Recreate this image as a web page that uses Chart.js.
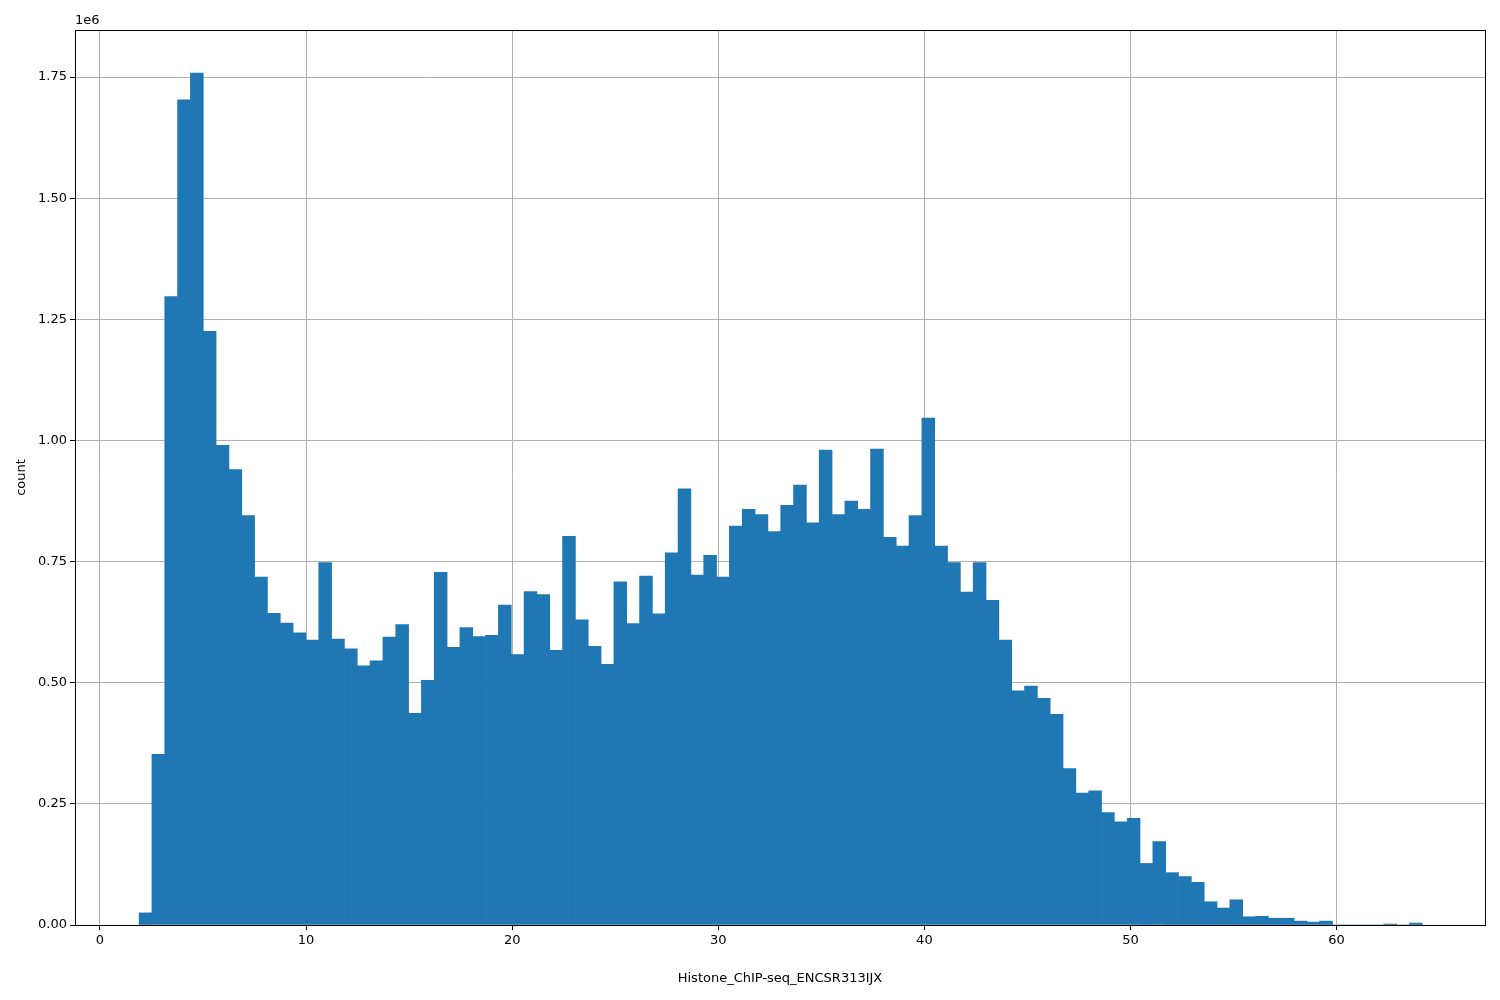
<!DOCTYPE html>
<html><head><meta charset="utf-8">
<script src="https://cdn.jsdelivr.net/npm/chart.js@4/dist/chart.umd.min.js"></script>
<style>body{margin:0;background:#fff}</style>
</head><body><canvas id="c" width="1500" height="1000" style="width:1500px;height:1000px"></canvas>
<script>
const binStart = 1.9;
const binWidth = 0.6226;
const counts = [0.025,0.352,1.297,1.703,1.758,1.225,0.99,0.94,0.845,0.718,
0.643,0.623,0.603,0.588,0.748,0.59,0.57,0.535,0.545,0.594,
0.62,0.437,0.505,0.728,0.573,0.614,0.595,0.598,0.66,0.558,
0.688,0.682,0.567,0.802,0.63,0.575,0.538,0.708,0.622,0.72,
0.642,0.768,0.9,0.722,0.763,0.718,0.823,0.858,0.847,0.812,
0.866,0.908,0.83,0.98,0.847,0.875,0.858,0.982,0.8,0.782,
0.845,1.046,0.782,0.748,0.687,0.748,0.67,0.588,0.483,0.493,
0.468,0.435,0.323,0.272,0.277,0.232,0.213,0.22,0.127,0.172,
0.108,0.1,0.088,0.048,0.035,0.052,0.017,0.018,0.014,0.014,
0.008,0.006,0.008,0,0,0,0,0.002,0,0.004];
const xTicks = [0,10,20,30,40,50,60];
const yTicks = [0,0.25,0.5,0.75,1.0,1.25,1.5,1.75];
const xLabel = "Histone_ChIP-seq_ENCSR313IJX";
const yLabel = "count";

const data = counts.map((v,i)=>({x: binStart + binWidth*(i+0.5), y: v*1e6}));
const font = {family:"DejaVu Sans", size:13};
const frame = {id:'frame', afterDraw(ch){
  const a=ch.chartArea, c=ch.ctx; c.save();
  c.strokeStyle='#000'; c.lineWidth=1;
  c.strokeRect(a.left+0.5,a.top+0.5,a.right-a.left,a.bottom-a.top);
  c.fillStyle='#000'; c.font='13px "DejaVu Sans"'; c.textBaseline='bottom';
  c.fillText('1e6', a.left, a.top-3); c.restore();
}};
new Chart(document.getElementById('c'),{
  type:'bar',
  data:{datasets:[{data, backgroundColor:'#1f77b4', borderWidth:0, barPercentage:1, categoryPercentage:1, grouped:false}]},
  options:{
    responsive:false, animation:false, devicePixelRatio:1,
    layout:{padding:{top:30,right:15,left:10,bottom:10}},
    plugins:{legend:{display:false}, tooltip:{enabled:false}},
    scales:{
      x:{type:'linear', min:-1.21, max:67.2, offset:false,
        afterBuildTicks(s){s.ticks=xTicks.map(v=>({value:v}));},
        afterFit(s){s.height=65;},
        grid:{color:'#b0b0b0', tickColor:'#000', tickLength:5, offset:false},
        border:{display:false},
        ticks:{color:'#000', font, padding:3, maxRotation:0, callback:v=>String(v)},
        title:{display:true, text:xLabel, color:'#000', font, padding:{top:14}}},
      y:{min:0, max:1.847e6,
        afterBuildTicks(s){s.ticks=yTicks.map(v=>({value:v*1e6}));},
        afterFit(s){s.width=65;},
        grid:{color:'#b0b0b0', tickColor:'#000', tickLength:5},
        border:{display:false},
        ticks:{color:'#000', font, padding:3, callback:v=>(v/1e6).toFixed(2)},
        title:{display:true, text:yLabel, color:'#000', font, padding:{bottom:0}}}
    }
  },
  plugins:[frame]
});
</script></body></html>
